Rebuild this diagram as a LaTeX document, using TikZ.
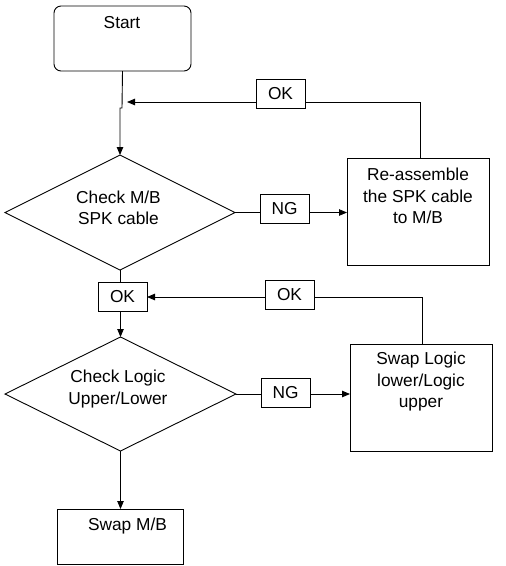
\documentclass[tikz,border=0pt]{standalone}
\usepackage{fontspec}
\setmainfont{Liberation Sans}
\usetikzlibrary{shapes.geometric,arrows.meta}
\begin{document}
\begin{tikzpicture}[x=1pt,y=-1pt,
  line width=0.9pt,
  shapebox/.style={draw,rectangle,inner sep=0pt,outer sep=0pt},
  decision/.style={draw,diamond,inner sep=0pt,outer sep=0pt},
  tag/.style={draw,rectangle,inner sep=0pt,outer sep=0pt,minimum width=49pt,minimum height=29pt,font=\fontsize{17.3}{21.5}\selectfont},
  txt/.style={align=center,inner sep=0pt,font=\fontsize{17.3}{21.5}\selectfont},
  arr/.style={-{Triangle[length=8pt,width=6.5pt]}}]
\useasboundingbox (0,0) rectangle (506,566);
% nodes
\node[shapebox,rounded corners=7pt,minimum width=137pt,minimum height=65pt] (start) at (122.5,38.5) {};
\node[txt] (startt) at (122,23) {Start};
\node[decision,minimum width=230pt,minimum height=115pt] (d1) at (120,212.5) {};
\node[txt] (d1t) at (118.5,208) {Check M/B\\SPK cable};
\node[shapebox,minimum width=142pt,minimum height=107pt] (r1) at (418,211.5) {};
\node[txt] (r1t) at (418,196) {Re-assemble\\the SPK cable\\to M/B};
\node[tag] (ok1) at (280.5,94) {OK};
\node[tag] (ng1) at (284.5,208.5) {NG};
\node[tag] (ok2) at (122.5,296.5) {OK};
\node[tag] (ok3) at (289.5,294.5) {OK};
\node[decision,minimum width=231pt,minimum height=114pt] (d2) at (120.5,394) {};
\node[txt] (d2t) at (118,389) {Check Logic\\Upper/Lower};
\node[tag] (ng2) at (285.5,393) {NG};
\node[shapebox,minimum width=142pt,minimum height=107pt] (r2) at (421,397.5) {};
\node[txt] (r2t) at (421,382) {Swap Logic\\lower/Logic\\upper};
\node[shapebox,minimum width=126pt,minimum height=55pt] (sw) at (120,536.5) {};
\node[txt] (swt) at (127.5,526) {Swap M/B};
% helper coordinates
\coordinate (m1) at (122,108);
\coordinate (f1) at (420,102);
\coordinate (t1) at (127,102);
\coordinate (f2) at (422,297);
% connectors
\draw[arr] (start.south) -- (m1) -| (d1.north);
\draw (r1.north -| f1) -- (f1) -- (f1 -| ok1.east);
\draw[arr] (f1 -| ok1.west) -- (t1);
\draw (d1.east) -- (d1.east -| ng1.west);
\draw[arr] (d1.east -| ng1.east) -- (d1.east -| r1.west);
\draw (d1.south) -- (d1.south |- ok2.north);
\draw[arr] (ok2.south -| d2.north) -- (d2.north);
\draw (r2.north -| f2) -- (f2) -- (f2 -| ok3.east);
\draw[arr] (f2 -| ok3.west) -- (f2 -| ok2.east);
\draw (d2.east) -- (d2.east -| ng2.west);
\draw[arr] (d2.east -| ng2.east) -- (d2.east -| r2.west);
\draw[arr] (d2.south) -- (d2.south |- sw.north);
\end{tikzpicture}
\end{document}
